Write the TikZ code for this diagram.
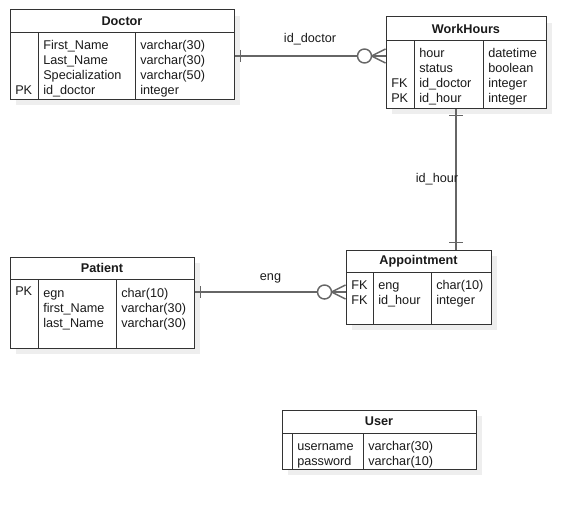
\documentclass[tikz,border=0pt]{standalone}
\usepackage{fontspec}
\setmainfont{Liberation Sans}
\usetikzlibrary{calc,fit}

\definecolor{ink}{HTML}{1A1A1A}
\definecolor{edge}{HTML}{333333}
\definecolor{link}{HTML}{666666}
\definecolor{shadowgray}{HTML}{EEEEEE}

\tikzset{
  tbl/.style={draw=edge, line width=0.75pt, fill=white, inner sep=0pt},
  rule/.style={draw=edge, line width=0.75pt},
  conn/.style={draw=link, line width=1.1pt},
  txt/.style={font=\fontsize{9.5}{11}\selectfont, text=ink, inner sep=0pt, anchor=base west},
  head/.style={font=\fontsize{9.5}{11}\selectfont\bfseries, text=ink, inner sep=0pt},
  lbl/.style={font=\fontsize{9.5}{11}\selectfont, text=ink, inner sep=0pt, anchor=base},
}

% table frame: name, x1, y1, x2, y2, header rule y, title
\newcommand{\ertable}[7]{%
  \fill[shadowgray] (#2+6,#3+6) rectangle (#4+6,#5+6);
  \node[tbl, fit={(#2,#3) (#4,#5)}] (#1) {};
  \draw[rule] (#2,#6) -- (#4,#6);
  \node[head] (#1-title) at ({(#2+#4)/2},{(#3+#6)/2}) {#7};
}

\begin{document}
\begin{tikzpicture}[x=0.75pt, y=-0.75pt]
\useasboundingbox (0,0) rectangle (585,510);

% ---------- Doctor ----------
\ertable{doctor}{10}{10}{234}{99}{33}{Doctor}
\draw[rule] (38,33) -- (38,99);
\draw[rule] (135,33) -- (135,99);
\node[txt] (d-n1) at (43,49.5) {First\_Name};
\node[txt] (d-t1) at (140,49.5) {varchar(30)};
\node[txt] (d-n2) at (43,64.5) {Last\_Name};
\node[txt] (d-t2) at (140,64.5) {varchar(30)};
\node[txt] (d-n3) at (43,79.5) {Specialization};
\node[txt] (d-t3) at (140,79.5) {varchar(50)};
\node[txt] (d-k4) at (15,94.5) {PK};
\node[txt] (d-n4) at (43,94.5) {id\_doctor};
\node[txt] (d-t4) at (140,94.5) {integer};

% ---------- WorkHours ----------
\ertable{workhours}{386}{17}{546}{108}{41}{WorkHours}
\draw[rule] (414,41) -- (414,108);
\draw[rule] (483,41) -- (483,108);
\node[txt] (w-n1) at (419,58) {hour};
\node[txt] (w-t1) at (488,58) {datetime};
\node[txt] (w-n2) at (419,73) {status};
\node[txt] (w-t2) at (488,73) {boolean};
\node[txt] (w-k3) at (391,88) {FK};
\node[txt] (w-n3) at (419,88) {id\_doctor};
\node[txt] (w-t3) at (488,88) {integer};
\node[txt] (w-k4) at (391,103) {PK};
\node[txt] (w-n4) at (419,103) {id\_hour};
\node[txt] (w-t4) at (488,103) {integer};

% ---------- Patient ----------
\ertable{patient}{10}{257}{194}{348}{279}{Patient}
\draw[rule] (38,279) -- (38,348);
\draw[rule] (116,279) -- (116,348);
\node[txt] (p-k1) at (15,295) {PK};
\node[txt] (p-n1) at (43,297) {egn};
\node[txt] (p-t1) at (121,297) {char(10)};
\node[txt] (p-n2) at (43,312) {first\_Name};
\node[txt] (p-t2) at (121,312) {varchar(30)};
\node[txt] (p-n3) at (43,327) {last\_Name};
\node[txt] (p-t3) at (121,327) {varchar(30)};

% ---------- Appointment ----------
\ertable{appointment}{346}{250}{491}{324}{272}{Appointment}
\draw[rule] (373,272) -- (373,324);
\draw[rule] (431,272) -- (431,324);
\node[txt] (a-k1) at (351,289) {FK};
\node[txt] (a-n1) at (378,289) {eng};
\node[txt] (a-t1) at (436,289) {char(10)};
\node[txt] (a-k2) at (351,304) {FK};
\node[txt] (a-n2) at (378,304) {id\_hour};
\node[txt] (a-t2) at (436,304) {integer};

% ---------- User ----------
\ertable{user}{282}{410}{476}{469}{433}{User}
\draw[rule] (292,433) -- (292,469);
\draw[rule] (363,433) -- (363,469);
\node[txt] (u-n1) at (297,450) {username};
\node[txt] (u-t1) at (368,450) {varchar(30)};
\node[txt] (u-n2) at (297,465) {password};
\node[txt] (u-t2) at (368,465) {varchar(10)};

% ---------- relationships ----------
% Doctor (one) -- WorkHours (zero or many)
\coordinate (dw-a) at (doctor.east |- 0,56);
\coordinate (dw-b) at (workhours.west |- 0,56);
\draw[conn] (dw-a) -- (dw-b);
\draw[conn] ($(dw-a)+(6,-6)$) -- ($(dw-a)+(6,6)$);
\draw[conn] ($(dw-b)+(-14,0)$) -- ($(dw-b)+(0,-7)$);
\draw[conn] ($(dw-b)+(-14,0)$) -- ($(dw-b)+(0,7)$);
\draw[conn, fill=white] ($(dw-b)+(-21,0)$) circle[radius=7];
\node[lbl] (dw-label) at (310,43) {id\_doctor};

% WorkHours (one) -- Appointment (one)
\coordinate (wa-a) at (workhours.south -| 456,0);
\coordinate (wa-b) at (appointment.north -| 456,0);
\draw[conn] (wa-a) -- (wa-b);
\draw[conn] ($(wa-a)+(-7,7)$) -- ($(wa-a)+(7,7)$);
\draw[conn] ($(wa-b)+(-7,-7)$) -- ($(wa-b)+(7,-7)$);
\node[lbl] (wa-label) at (437,182) {id\_hour};

% Patient (one) -- Appointment (zero or many)
\coordinate (pa-a) at (patient.east |- 0,292);
\coordinate (pa-b) at (appointment.west |- 0,292);
\draw[conn] (pa-a) -- (pa-b);
\draw[conn] ($(pa-a)+(6,-6)$) -- ($(pa-a)+(6,6)$);
\draw[conn] ($(pa-b)+(-14,0)$) -- ($(pa-b)+(0,-7)$);
\draw[conn] ($(pa-b)+(-14,0)$) -- ($(pa-b)+(0,7)$);
\draw[conn, fill=white] ($(pa-b)+(-21,0)$) circle[radius=7];
\node[lbl] (pa-label) at (270.5,280) {eng};

\end{tikzpicture}
\end{document}
